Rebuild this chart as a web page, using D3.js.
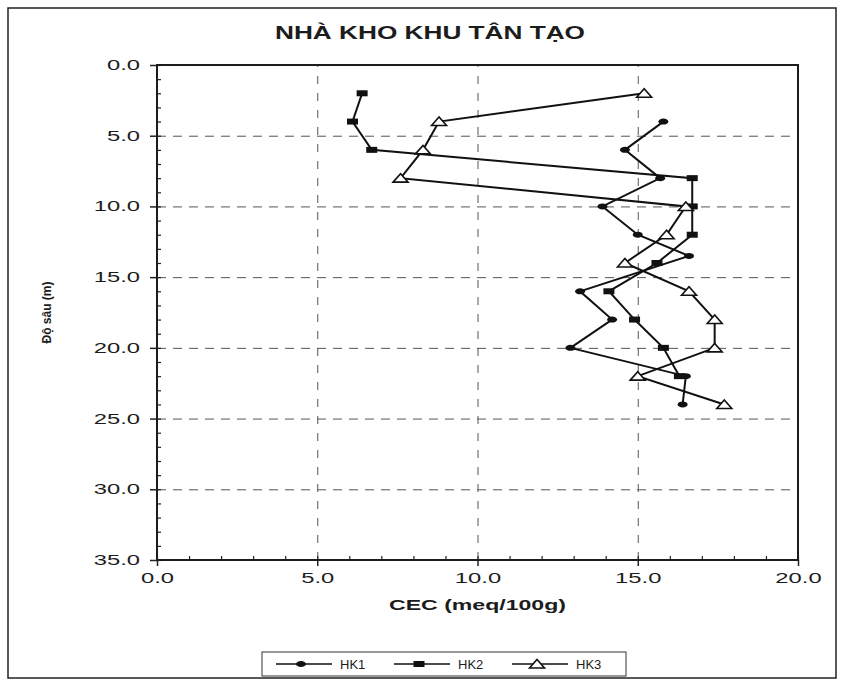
<!DOCTYPE html>
<html>
<head>
<meta charset="utf-8">
<script src="https://cdn.jsdelivr.net/npm/d3@7"></script>
<style>
body { margin: 0; background: #fff; }
text { font-family: "Liberation Sans", Arial, sans-serif; fill: #1c1c1c; }
</style>
</head>
<body>
<svg id="chart" width="844" height="682"></svg>
<script>
// CEC theo độ sâu, 3 hố khoan
const depthHK1 = [4, 6, 8, 10, 12, 13.5, 16, 18, 20, 22, 24];
const cecHK1 = [15.8, 14.6, 15.7, 13.9, 15.0, 16.6, 13.2, 14.2, 12.9, 16.5, 16.4];
const depthHK2 = [2, 4, 6, 8, 10, 12, 14, 16, 18, 20, 22];
const cecHK2 = [6.4, 6.1, 6.7, 16.7, 16.7, 16.7, 15.6, 14.1, 14.9, 15.8, 16.3];
const depthHK3 = [2, 4, 6, 8, 10, 12, 14, 16, 18, 20, 22, 24];
const cecHK3 = [15.2, 8.8, 8.3, 7.6, 16.5, 15.9, 14.6, 16.6, 17.4, 17.4, 15.0, 17.7];
const seriesNames = ["HK1", "HK2", "HK3"];
const xTicks = [0, 5, 10, 15, 20];
const yTicks = [0, 5, 10, 15, 20, 25, 30, 35];
const xMinor = d3.range(0, 21, 1);
const yMinor = d3.range(0, 36, 1);

const svg = d3.select("#chart");
const pLeft = 157, pRight = 798, pTop = 65, pBottom = 560;
const sx = 1.7; // chữ trong bản scan bị kéo giãn ngang

const x = d3.scaleLinear().domain([0, 20]).range([pLeft, pRight]);
const y = d3.scaleLinear().domain([0, 35]).range([pTop, pBottom]);

// khung ngoài
svg.append("rect")
    .attr("x", 8).attr("y", 8).attr("width", 828).attr("height", 670)
    .attr("fill", "none").attr("stroke", "#222").attr("stroke-width", 1.5);

// tiêu đề
svg.append("text")
    .attr("transform", "translate(430,39) scale(1.38,1)")
    .attr("text-anchor", "middle")
    .style("font-size", "19px").style("font-weight", "bold")
    .text("NHÀ KHO KHU TÂN TẠO");

// lưới
svg.append("g")
    .attr("transform", "translate(0," + pBottom + ")")
    .call(d3.axisBottom(x).tickValues([5, 10, 15]).tickSize(-(pBottom - pTop)).tickFormat(""))
    .call(g => g.select(".domain").remove())
    .selectAll("line").attr("stroke", "#555").attr("stroke-dasharray", "8,9");
svg.append("g")
    .attr("transform", "translate(" + pLeft + ",0)")
    .call(d3.axisLeft(y).tickValues([5, 10, 15, 20, 25, 30]).tickSize(-(pRight - pLeft)).tickFormat(""))
    .call(g => g.select(".domain").remove())
    .selectAll("line").attr("stroke", "#555").attr("stroke-dasharray", "9,7");

// vạch chia phụ
svg.append("g")
    .attr("transform", "translate(0," + pBottom + ")")
    .call(d3.axisBottom(x).tickValues(xMinor).tickSize(-4).tickFormat(""))
    .call(g => g.select(".domain").remove())
    .selectAll("line").attr("stroke", "#222").attr("stroke-width", 1.2);
svg.append("g")
    .attr("transform", "translate(" + pLeft + ",0)")
    .call(d3.axisLeft(y).tickValues(yMinor).tickSize(-4).tickFormat(""))
    .call(g => g.select(".domain").remove())
    .selectAll("line").attr("stroke", "#222").attr("stroke-width", 1.2);

// trục chính
const xAxis = svg.append("g")
    .attr("transform", "translate(0," + pBottom + ")")
    .call(d3.axisBottom(x).tickValues(xTicks).tickSize(6).tickFormat(d3.format(".1f")));
xAxis.select(".domain").remove();
xAxis.selectAll("line").attr("stroke", "#222").attr("stroke-width", 1.5);
xAxis.selectAll("text")
    .attr("y", 23).attr("dy", null)
    .attr("transform", "scale(" + sx + ",1)")
    .style("font-size", "14px");

const yAxis = svg.append("g")
    .attr("transform", "translate(" + pLeft + ",0)")
    .call(d3.axisLeft(y).tickValues(yTicks).tickSize(7).tickFormat(d3.format(".1f")));
yAxis.select(".domain").remove();
yAxis.selectAll("line").attr("stroke", "#222").attr("stroke-width", 1.5);
yAxis.selectAll("text")
    .attr("x", -17 / sx)
    .attr("transform", "scale(" + sx + ",1)")
    .style("font-size", "14px");

// khung vùng vẽ
svg.append("rect")
    .attr("x", pLeft).attr("y", pTop).attr("width", pRight - pLeft).attr("height", pBottom - pTop)
    .attr("fill", "none").attr("stroke", "#1c1c1c").attr("stroke-width", 2);

// nhãn trục
svg.append("text")
    .attr("transform", "translate(" + ((pLeft + pRight) / 2) + ",610) scale(1.65,1)")
    .attr("text-anchor", "middle")
    .style("font-size", "14px").style("font-weight", "bold")
    .text("CEC (meq/100g)");
svg.append("text")
    .attr("transform", "translate(51," + ((pTop + pBottom) / 2) + ") rotate(-90)")
    .attr("text-anchor", "middle")
    .style("font-size", "12px").style("font-weight", "bold")
    .text("Độ sâu (m)");

// dữ liệu
const series = [
    { name: seriesNames[0], pts: depthHK1.map((d, i) => [cecHK1[i], d]), marker: "circle" },
    { name: seriesNames[1], pts: depthHK2.map((d, i) => [cecHK2[i], d]), marker: "square" },
    { name: seriesNames[2], pts: depthHK3.map((d, i) => [cecHK3[i], d]), marker: "triangle" }
];

const line = d3.line().x(d => x(d[0])).y(d => y(d[1]));

function drawMarker(g, type, cx, cy) {
    if (type === "circle") {
        g.append("ellipse").attr("cx", cx).attr("cy", cy).attr("rx", 5).attr("ry", 3)
            .attr("fill", "#111");
    } else if (type === "square") {
        g.append("rect").attr("x", cx - 5.5).attr("y", cy - 3).attr("width", 11).attr("height", 6)
            .attr("fill", "#111");
    } else {
        g.append("path")
            .attr("d", "M" + (cx - 7.5) + "," + (cy + 4) + "L" + cx + "," + (cy - 4.5) + "L" + (cx + 7.5) + "," + (cy + 4) + "Z")
            .attr("fill", "#fff").attr("stroke", "#111").attr("stroke-width", 1.6);
    }
}

series.forEach(s => {
    svg.append("path")
        .datum(s.pts)
        .attr("d", line)
        .attr("fill", "none").attr("stroke", "#111").attr("stroke-width", 2);
    const g = svg.append("g");
    s.pts.forEach(p => drawMarker(g, s.marker, x(p[0]), y(p[1])));
});

// chú giải
const lg = svg.append("g").attr("transform", "translate(262,652)");
lg.append("rect")
    .attr("width", 364).attr("height", 24)
    .attr("fill", "#fff").attr("stroke", "#333").attr("stroke-width", 1);
series.forEach((s, i) => {
    const ox = 14 + i * 118;
    const g = lg.append("g");
    g.append("line")
        .attr("x1", ox).attr("x2", ox + 56).attr("y1", 12).attr("y2", 12)
        .attr("stroke", "#111").attr("stroke-width", 1.5);
    drawMarker(g, s.marker, ox + 25, 12);
    g.append("text")
        .attr("x", ox + 64).attr("y", 17)
        .style("font-size", "13px")
        .text(s.name);
});
</script>
</body>
</html>
